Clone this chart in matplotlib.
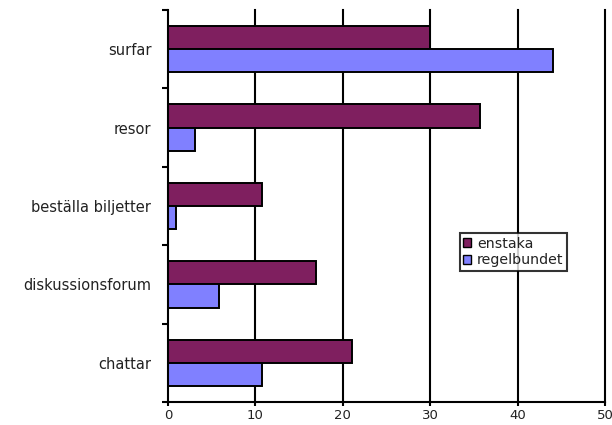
import numpy as np
import matplotlib
matplotlib.use("Agg")
import matplotlib.pyplot as plt
from matplotlib.patches import Patch

# Data
categories = ["surfar", "resor", "beställa biljetter", "diskussionsforum", "chattar"]
enstaka = [30, 35.7, 10.7, 16.9, 21.1]
regelbundet = [44, 3.1, 0.9, 5.8, 10.8]
xticks = [0, 10, 20, 30, 40, 50]

ENSTAKA_COLOR = "#7F1F5F"
REGEL_COLOR = "#8080FF"
TEXT = "#222222"

plt.rcParams["font.family"] = ["DejaVu Sans"]

fig = plt.figure(figsize=(6.12, 4.25), dpi=100)
ax = fig.add_axes([0.2745, 0.054, 0.7141, 0.9225])

y = np.arange(len(categories))
h = 0.295
ax.barh(y - h / 2, enstaka, h, color=ENSTAKA_COLOR, edgecolor="black",
        linewidth=1.4, zorder=3)
ax.barh(y + h / 2, regelbundet, h, color=REGEL_COLOR, edgecolor="black",
        linewidth=1.4, zorder=3)

ax.set_xlim(0, 50)
ax.set_ylim(len(categories) - 0.5, -0.5)

# vertical grid lines, the one at 50 doubles as the right border
for xv in xticks[1:]:
    ax.axvline(xv, color="black", lw=1.5, zorder=1, clip_on=False)

for side in ["top", "right"]:
    ax.spines[side].set_visible(False)
for side in ["left", "bottom"]:
    ax.spines[side].set_linewidth(1.5)
    ax.spines[side].set_zorder(4)

ax.set_xticks(xticks)
ax.set_xticklabels([str(v) for v in xticks], fontsize=9.5, color=TEXT)
ax.tick_params(axis="x", length=3, width=1.5, pad=2)

# category labels sit between boundary ticks
ax.set_yticks(np.arange(-0.5, len(categories)), minor=False)
ax.set_yticklabels([])
ax.set_yticks(y, minor=True)
ax.set_yticklabels(categories, minor=True, fontsize=10.5, color=TEXT)
ax.tick_params(axis="y", which="major", length=4, width=1.5)
ax.tick_params(axis="y", which="minor", length=0, pad=12)

handles = [Patch(facecolor=ENSTAKA_COLOR, edgecolor="black", label="enstaka"),
           Patch(facecolor=REGEL_COLOR, edgecolor="black", label="regelbundet")]
leg = ax.legend(handles=handles, loc="upper left",
                bbox_to_anchor=(0.668, 0.431), fontsize=10.2, frameon=True,
                fancybox=False, edgecolor="black", handlelength=0.55,
                handleheight=0.55, handletextpad=0.4, borderpad=0.25,
                labelspacing=0.2, borderaxespad=0)
leg.get_frame().set_linewidth(1.5)
leg.set_zorder(5)
for t in leg.get_texts():
    t.set_color(TEXT)

fig.savefig("out.png", dpi=100, facecolor="white")
